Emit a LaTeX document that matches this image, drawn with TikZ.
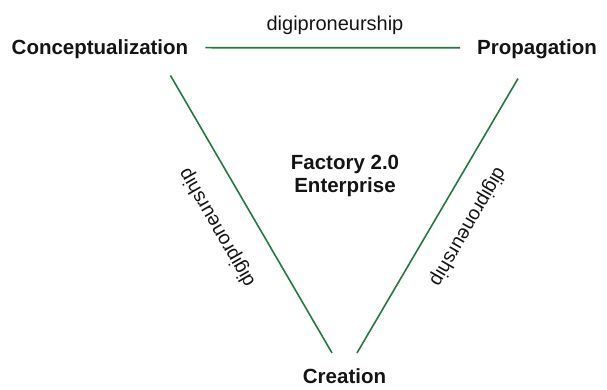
\documentclass[tikz,border=0pt]{standalone}
\usepackage{fontspec}
\setmainfont{Liberation Sans}
\usepackage{xcolor}
\usetikzlibrary{calc}
\definecolor{blackmain}{HTML}{141414}
\definecolor{greenline}{HTML}{237A40}
\tikzset{
  stage/.style={font=\fontsize{20.5}{23}\selectfont\bfseries,text=blackmain,inner sep=0pt},
  tag/.style={font=\fontsize{19.5}{23}\selectfont,text=blackmain,inner sep=0pt},
  link/.style={greenline,line width=1.6pt}
}

\begin{document}
\begin{tikzpicture}[x=1pt,y=1pt]
\useasboundingbox (0,0) rectangle (607,389);
\node[stage,anchor=base west] (concept) at (11.5,334) {Conceptualization};
\node[stage,anchor=base east] (propag) at (597,334) {Propagation};
\node[stage,anchor=base] (creation) at (344.5,6) {Creation};
\node[stage,align=center] (factory) at (345,213) {Factory 2.0\\Enterprise};
\draw[link] ([shift={(17pt,2pt)}]concept.east) -- ([shift={(-17pt,2pt)}]propag.west);
\draw[link] ([shift={(-18pt,-16pt)}]concept.south east) -- ([shift={(-12.5pt,15pt)}]creation.north);
\draw[link] ([shift={(-19pt,-19pt)}]propag.south) -- ([shift={(12.5pt,15pt)}]creation.north);
\node[tag,font=\fontsize{20}{23}\selectfont,anchor=base] (toptag) at (335,358) {digiproneurship};
\node[tag,rotate=120] (lefttag) at (217.5,161.5) {digiproneurship};
\node[tag,rotate=-120] (righttag) at (467.5,162.5) {digiproneurship};
\end{tikzpicture}
\end{document}
